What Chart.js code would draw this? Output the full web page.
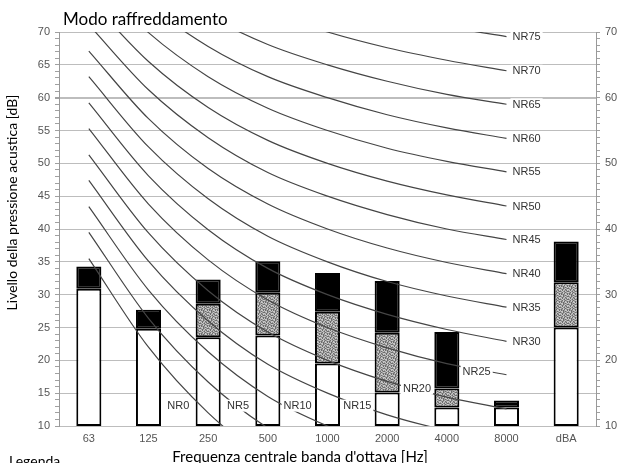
<!DOCTYPE html>
<html><head><meta charset="utf-8">
<script src="https://cdn.jsdelivr.net/npm/chart.js@4.4.1/dist/chart.umd.min.js"></script>
<style>html,body{margin:0;padding:0;background:#fff}canvas{display:block}</style>
</head><body>
<canvas id="c" width="620" height="463"></canvas>
<script>
// ---- data ----
const categories = ['63','125','250','500','1000','2000','4000','8000','dBA'];
const barBase  = 10;
const whiteTop = [30.9, 24.8, 23.5, 23.8, 19.5, 15.1, 12.8, 12.8, 25.0];
const greyTop  = [null, null, 28.6, 30.3, 27.4, 24.2, 15.7, null, 31.9];
const barTop   = [34.3, 27.7, 32.3, 35.1, 33.3, 32.1, 24.3, 13.9, 38.1];

// NR curves (63 ... 8000 Hz), none at dBA
const NR0  = [35.5, 22.0, 12.0,  4.8,  0.0, -3.5, -6.1, -8.0, null];
const NR5  = [39.5, 26.4, 16.7,  9.7,  5.0,  1.6, -1.0, -2.9, null];
const NR10 = [43.4, 30.7, 21.3, 14.5, 10.0,  6.7,  4.2,  2.3, null];
const NR15 = [47.4, 35.1, 26.0, 19.4, 15.0, 11.7,  9.3,  7.5, null];
const NR20 = [51.3, 39.4, 30.6, 24.3, 20.0, 16.8, 14.4, 12.6, null];
const NR25 = [55.3, 43.8, 35.3, 29.2, 25.0, 21.9, 19.5, 17.8, null];
const NR30 = [59.2, 48.1, 39.9, 34.0, 30.0, 27.0, 24.7, 22.9, null];
const NR35 = [63.2, 52.5, 44.6, 38.9, 35.0, 32.0, 29.8, 28.1, null];
const NR40 = [67.1, 56.8, 49.2, 43.8, 40.0, 37.1, 34.9, 33.2, null];
const NR45 = [71.1, 61.2, 53.9, 48.6, 45.0, 42.2, 40.0, 38.4, null];
const NR50 = [75.0, 65.5, 58.5, 53.5, 50.0, 47.3, 45.2, 43.5, null];
const NR55 = [79.0, 69.9, 63.2, 58.4, 55.0, 52.3, 50.3, 48.7, null];
const NR60 = [82.9, 74.2, 67.8, 63.2, 60.0, 57.4, 55.4, 53.8, null];
const NR65 = [86.9, 78.6, 72.5, 68.1, 65.0, 62.5, 60.5, 59.0, null];
const NR70 = [90.8, 82.9, 77.1, 73.0, 70.0, 67.6, 65.7, 64.1, null];
const NR75 = [94.8, 87.3, 81.8, 77.9, 75.0, 72.6, 70.8, 69.3, null];
const nrCurves = {NR0, NR5, NR10, NR15, NR20, NR25, NR30, NR35, NR40, NR45, NR50, NR55, NR60, NR65, NR70, NR75};

// curve labels placed inside the plot (between categories) for the low curves
const innerLabels = [
  {name:'NR0',  between:1, value:13.1},
  {name:'NR5',  between:2, value:13.1},
  {name:'NR10', between:3, value:13.1},
  {name:'NR15', between:4, value:13.1},
  {name:'NR20', between:5, value:15.7},
  {name:'NR25', between:6, value:18.25}
];
const endLabels = ['NR30','NR35','NR40','NR45','NR50','NR55','NR60','NR65','NR70','NR75'];

const yMin = 10, yMax = 70;
const leftLabelStep = 5, rightLabelStep = 10;

const titleText  = 'Modo raffreddamento';
const yTitleText = 'Livello della pressione acustica [dB]';
const xTitleText = "Frequenza centrale banda d'ottava [Hz]";
const legendText = 'Legenda';

// ---- styles ----
function makePattern(ctx){
  const rows = [
    'dmldmlmd',
    'lmdmldml',
    'mldlmmdl',
    'dmlmdlmd',
    'lmdlmdml',
    'mdmldlmd',
    'ldmdmlld',
    'mlldmdml'
  ];
  const col = {d:'#6c6c6c', m:'#9c9c9c', l:'#c8c8c8'};
  const c = document.createElement('canvas'); c.width = 8; c.height = 8;
  const p = c.getContext('2d');
  rows.forEach((r,y)=>[...r].forEach((ch,x)=>{ p.fillStyle = col[ch]; p.fillRect(x,y,1,1); }));
  return ctx.createPattern(c,'repeat');
}
const canvas = document.getElementById('c');
const ctx0 = canvas.getContext('2d');
const greyPattern = makePattern(ctx0);

const barCommon = {type:'bar', borderColor:'#000', borderWidth:2, borderSkipped:false,
  grouped:false, categoryPercentage:1, barPercentage:0.42, order:2};

const datasets = [
  Object.assign({label:'base', backgroundColor:'#fff',
    data: categories.map((c,i)=>[barBase, whiteTop[i]])}, barCommon),
  Object.assign({label:'mid', backgroundColor:greyPattern,
    data: categories.map((c,i)=> greyTop[i]==null ? null : [whiteTop[i], greyTop[i]])}, barCommon),
  Object.assign({label:'top', backgroundColor:'#000',
    data: categories.map((c,i)=>[greyTop[i]==null ? whiteTop[i] : greyTop[i], barTop[i]])}, barCommon)
];
Object.keys(nrCurves).forEach(k=>{
  datasets.push({type:'line', label:k, data:nrCurves[k], borderColor:'#454545', borderWidth:1.2,
    pointRadius:0, fill:false, cubicInterpolationMode:'monotone', order:0});
});

const tickFont = {family:'"Liberation Sans", Arial, sans-serif', size:11};

const textPlugin = {
  id:'texts',
  afterDatasetsDraw(chart){
    const ctx = chart.ctx, xs = chart.scales.x, ys = chart.scales.y;
    ctx.save();
    ctx.font = '11px "Liberation Sans", Arial, sans-serif';
    ctx.textBaseline = 'middle';
    innerLabels.forEach(l=>{
      const x = (xs.getPixelForValue(l.between) + xs.getPixelForValue(l.between+1))/2;
      const y = ys.getPixelForValue(l.value);
      const w = ctx.measureText(l.name).width;
      ctx.fillStyle = '#fff';
      ctx.fillRect(x - w/2 - 2, y - 6, w + 4, 12);
      ctx.fillStyle = '#333';
      ctx.textAlign = 'center';
      ctx.fillText(l.name, x, y + 0.5);
    });
    endLabels.forEach(n=>{
      const arr = nrCurves[n];
      const v = arr[7];
      const x = xs.getPixelForValue(7) + 6;
      const y = ys.getPixelForValue(v);
      const w = ctx.measureText(n).width;
      ctx.fillStyle = '#fff';
      ctx.fillRect(x - 2, y - 6, w + 4, 12);
      ctx.fillStyle = '#333';
      ctx.textAlign = 'left';
      ctx.fillText(n, x, y + 0.5);
    });
    ctx.restore();
  },
  afterDraw(chart){
    const ctx = chart.ctx;
    ctx.save();
    ctx.fillStyle = '#000';
    ctx.textBaseline = 'alphabetic';
    ctx.font = '17px Lato, "Open Sans", sans-serif';
    ctx.textAlign = 'left';
    ctx.fillText(titleText, 63, 25);
    ctx.font = '15px Lato, "Open Sans", sans-serif';
    ctx.textAlign = 'center';
    ctx.fillText(xTitleText, 300, 461.5);
    ctx.font = '14px Lato, "Open Sans", sans-serif';
    ctx.textAlign = 'left';
    ctx.fillText(legendText, 9, 466);
    ctx.translate(17, 202.5);
    ctx.rotate(-Math.PI/2);
    ctx.textAlign = 'center';
    ctx.fillText(yTitleText, 0, 0);
    ctx.restore();
  }
};

new Chart(canvas, {
  data:{labels:categories, datasets},
  options:{
    responsive:false, animation:false, devicePixelRatio:1,
    layout:{padding:{top:32, left:0, right:0, bottom:0}},
    plugins:{legend:{display:false}, tooltip:{enabled:false}, title:{display:false}},
    scales:{
      x:{type:'category', offset:true,
        grid:{display:false, drawTicks:false}, border:{display:false},
        ticks:{color:'#555', font:tickFont, padding:6, maxRotation:0, autoSkip:false},
        afterFit(s){ s.height = 37; }},
      y:{position:'left', min:yMin, max:yMax,
        ticks:{stepSize:1, autoSkip:false, maxTicksLimit:100, color:'#555', font:tickFont, padding:5,
          callback:v => v % leftLabelStep === 0 ? String(v) : ''},
        grid:{color:c => (c.tick && c.tick.value % leftLabelStep === 0) ? '#bdbdbd' : 'rgba(0,0,0,0)',
          lineWidth:c => (c.tick && c.tick.value === 60) ? 2 : 1,
          tickColor:'#a0a0a0', tickLength:4},
        border:{color:'#999'},
        afterFit(s){ s.width = 59; }},
      y2:{position:'right', min:yMin, max:yMax,
        ticks:{stepSize:1, autoSkip:false, maxTicksLimit:100, color:'#555', font:tickFont, padding:5,
          callback:v => v % rightLabelStep === 0 ? String(v) : ''},
        grid:{drawOnChartArea:false, tickColor:'#a0a0a0', tickLength:4},
        border:{color:'#999'},
        afterFit(s){ s.width = 24; }}
    }
  },
  plugins:[textPlugin]
});
</script>
</body></html>
